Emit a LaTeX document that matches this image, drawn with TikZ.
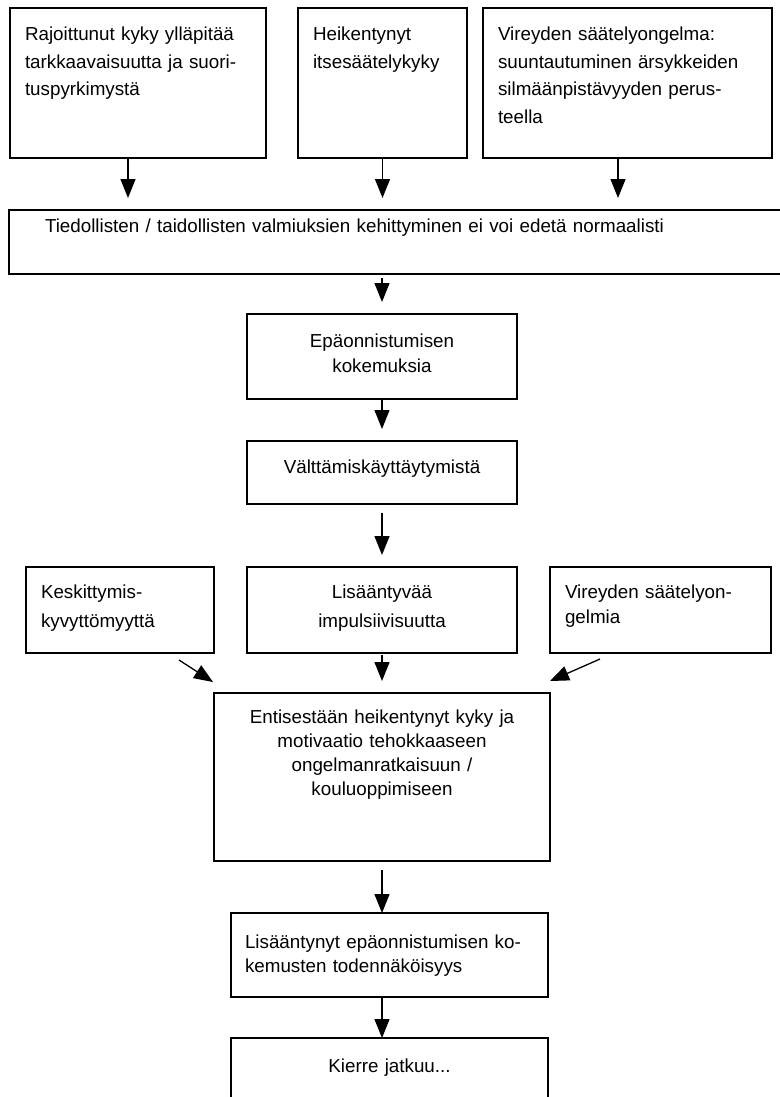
\documentclass[tikz,border=0pt]{standalone}
\usepackage{fontspec}
\setmainfont{Liberation Sans}
\usetikzlibrary{arrows.meta,positioning}

\begin{document}
\begin{tikzpicture}[x=1pt, y=-1pt,
  box/.style={draw, line width=1.5pt, rectangle, anchor=north west,
              inner xsep=15pt, inner ysep=0pt, outer sep=0pt, align=left,
              text height=33pt, font=\fontsize{18.8}{27.5}\selectfont},
  mid/.style={box, align=center, font=\fontsize{18.8}{25}\selectfont},
  arr/.style={-{Triangle[length=19pt,width=15pt]}, line width=1.3pt},
  gap/.style={shorten >=12pt}
]
  \useasboundingbox (0,0) rectangle (779,1097);
  % top row
  \node[box, text width=226pt, text depth=117pt] (r1) at (10,8)
    {Rajoittunut kyky ylläpitää\\tarkkaavaisuutta ja suori-\\tuspyrkimystä};
  \node[box, text width=139pt, text depth=117pt, right=32pt of r1] (r2)
    {Heikentynyt\\itsesäätelykyky};
  \node[box, text width=259pt, text depth=117pt, right=16pt of r2] (r3)
    {Vireyden säätelyongelma:\\suuntautuminen ärsykkeiden\\silmäänpistävyyden perus-\\teella};
  \node[box, inner xsep=36pt, text width=709pt, text height=22pt, text depth=42pt] (wide) at (9,210)
    {Tiedollisten / taidollisten valmiuksien kehittyminen ei voi edetä normaalisti};
  % chain
  \node[mid, text width=240pt, text depth=52pt] (epa) at (247,314)
    {Epäonnistumisen\\kokemuksia};
  \node[mid, text width=240pt, text height=32pt, text depth=31pt, below=42pt of epa] (valt)
    {Välttämiskäyttäytymistä};
  \node[mid, text width=240pt, text height=31pt, text depth=55pt, below=63pt of valt,
        font=\fontsize{18.8}{29}\selectfont] (imp)
    {Lisääntyvää\\impulsiivisuutta};
  \node[box, text width=158pt, text height=31pt, text depth=55pt, left=33pt of imp,
        font=\fontsize{18.8}{29}\selectfont] (kesk)
    {Keskittymis-\\kyvyttömyyttä};
  \node[box, text width=191pt, text height=31pt, text depth=55pt, right=33pt of imp,
        font=\fontsize{18.8}{25}\selectfont] (vir2)
    {Vireyden säätelyon-\\gelmia};
  \node[mid, text width=306pt, text height=30pt, text depth=138pt, below=40pt of imp,
        font=\fontsize{18.8}{24}\selectfont] (big)
    {Entisestään heikentynyt kyky ja\\motivaatio tehokkaaseen\\ongelmanratkaisuun /\\kouluoppimiseen};
  \node[box, inner xsep=14pt, text width=289pt, text height=35pt, text depth=49pt,
        below=52pt of big, xshift=7.5pt, font=\fontsize{18.8}{24}\selectfont] (lisa)
    {Lisääntynyt epäonnistumisen ko-\\kemusten todennäköisyys};
  \node[mid, text width=287pt, text height=34pt, text depth=56pt, below=41pt of lisa] (kierre)
    {Kierre jatkuu...};

  \draw[arr, gap] ([xshift=-10pt]r1.south) -- ([xshift=-10pt]r1.south |- wide.north);
  \draw[arr, gap] (r2.south) -- (r2.south |- wide.north);
  \draw[arr, gap] ([xshift=-9.5pt]r3.south) -- ([xshift=-9.5pt]r3.south |- wide.north);
  \draw[arr, gap, shorten <=4pt] (epa.north |- wide.south) -- (epa.north);
  \draw[arr, gap] (epa.south) -- (valt.north);
  \draw[arr, gap, shorten <=9pt] (valt.south) -- (imp.north);
  \draw[arr, gap, shorten <=2pt] (imp.south) -- (big.north);
  \draw[arr] ([xshift=-35pt,yshift=-7pt]kesk.south east) -- ([xshift=-1pt,yshift=11pt]big.north west);
  \draw[arr] ([xshift=50pt,yshift=-6pt]vir2.south west) -- ([yshift=12pt]big.north east);
  \draw[arr, shorten <=9pt] (big.south) -- (big.south |- lisa.north);
  \draw[arr] (big.south |- lisa.south) -- (big.south |- kierre.north);
\end{tikzpicture}
\end{document}
